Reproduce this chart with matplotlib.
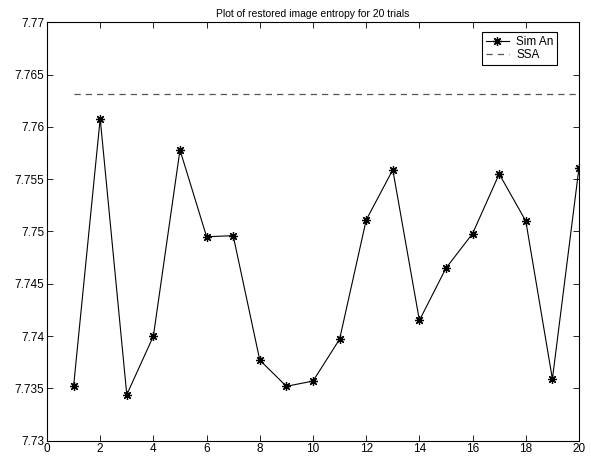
import matplotlib
matplotlib.use("Agg")
import matplotlib.pyplot as plt
import numpy as np

trials = np.arange(1, 21)
sim_an = [7.7352, 7.7608, 7.7344, 7.7400, 7.7578, 7.7495, 7.7496, 7.7377, 7.7352, 7.7357,
          7.7397, 7.7511, 7.7559, 7.7415, 7.7465, 7.7498, 7.7555, 7.7510, 7.7359, 7.7561]
ssa = [7.7631] * 20

plt.rcParams['font.family'] = ['Liberation Sans', 'DejaVu Sans']

fig = plt.figure(figsize=(5.91, 4.58), dpi=100)
ax = fig.add_axes([0.0795, 0.0378, 0.9002, 0.9135])

ax.plot(trials, sim_an, color='black', lw=0.8, marker=(8, 2, 0), ms=6.5, mew=0.9, label='Sim An')
ax.plot(trials, ssa, color='#555555', lw=0.9, ls=(0, (5, 4)), label='SSA')

ax.set_xlim(0, 20)
ax.set_ylim(7.73, 7.77)
ax.set_xticks(np.arange(0, 21, 2))
ax.set_yticks(np.arange(7.73, 7.7701, 0.005))
ax.set_yticklabels(['7.73', '7.735', '7.74', '7.745', '7.75', '7.755', '7.76', '7.765', '7.77'])
ax.tick_params(direction='in', top=True, right=True, labelsize=8.5, length=4, width=0.6, pad=2)
for s in ax.spines.values():
    s.set_linewidth(0.8)

ax.set_title('Plot of restored image entropy for 20 trials', fontsize=7.5, pad=4)
leg = ax.legend(loc='upper right', fontsize=8.5, fancybox=False, edgecolor='black',
                framealpha=1, handlelength=2.0, borderpad=0.3, labelspacing=0.1,
                handletextpad=0.6, borderaxespad=0, bbox_to_anchor=(0.959, 0.976))
leg.get_frame().set_linewidth(0.8)

fig.savefig('out.png', dpi=100)
